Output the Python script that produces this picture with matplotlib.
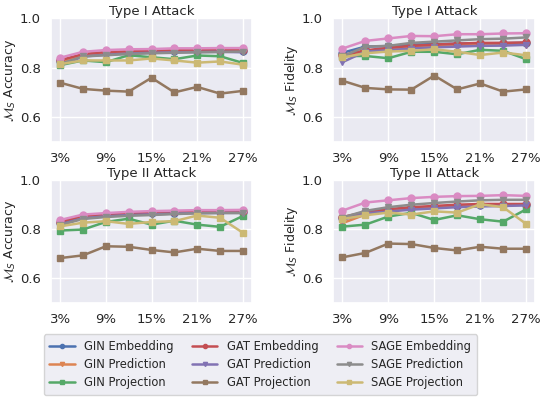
import matplotlib
matplotlib.use("Agg")
import matplotlib.pyplot as plt
import seaborn as sns

# ── Data ──────────────────────────────────────────────────────────────────────
ratios = [3, 6, 9, 12, 15, 18, 21, 24, 27]
tick_ratios = [3, 9, 15, 21, 27]
tick_labels = ["3%", "9%", "15%", "21%", "27%"]

series_names = [
    "GIN Embedding", "GIN Prediction", "GIN Projection",
    "GAT Embedding", "GAT Prediction", "GAT Projection",
    "SAGE Embedding", "SAGE Prediction", "SAGE Projection",
]

# Type I attack, accuracy
t1_acc = {
    "GIN Embedding":   [0.825, 0.852, 0.860, 0.863, 0.866, 0.867, 0.868, 0.868, 0.869],
    "GIN Prediction":  [0.820, 0.850, 0.858, 0.862, 0.865, 0.866, 0.867, 0.868, 0.868],
    "GIN Projection":  [0.810, 0.829, 0.822, 0.850, 0.842, 0.834, 0.849, 0.846, 0.819],
    "GAT Embedding":   [0.830, 0.855, 0.863, 0.866, 0.868, 0.870, 0.871, 0.872, 0.873],
    "GAT Prediction":  [0.810, 0.845, 0.852, 0.857, 0.860, 0.862, 0.863, 0.864, 0.862],
    "GAT Projection":  [0.739, 0.714, 0.707, 0.703, 0.759, 0.700, 0.722, 0.695, 0.706],
    "SAGE Embedding":  [0.840, 0.864, 0.871, 0.874, 0.875, 0.878, 0.878, 0.879, 0.879],
    "SAGE Prediction": [0.815, 0.845, 0.850, 0.855, 0.858, 0.860, 0.862, 0.863, 0.865],
    "SAGE Projection": [0.814, 0.829, 0.829, 0.829, 0.837, 0.829, 0.820, 0.825, 0.812],
}

# Type I attack, fidelity
t1_fid = {
    "GIN Embedding":   [0.860, 0.885, 0.887, 0.893, 0.895, 0.897, 0.898, 0.899, 0.900],
    "GIN Prediction":  [0.845, 0.868, 0.876, 0.883, 0.886, 0.889, 0.891, 0.892, 0.893],
    "GIN Projection":  [0.847, 0.847, 0.838, 0.864, 0.864, 0.854, 0.872, 0.868, 0.834],
    "GAT Embedding":   [0.850, 0.870, 0.880, 0.888, 0.893, 0.897, 0.900, 0.900, 0.902],
    "GAT Prediction":  [0.822, 0.865, 0.870, 0.877, 0.882, 0.885, 0.888, 0.889, 0.892],
    "GAT Projection":  [0.747, 0.718, 0.712, 0.711, 0.768, 0.712, 0.736, 0.703, 0.712],
    "SAGE Embedding":  [0.877, 0.908, 0.918, 0.928, 0.927, 0.935, 0.935, 0.938, 0.939],
    "SAGE Prediction": [0.845, 0.885, 0.888, 0.900, 0.905, 0.910, 0.915, 0.917, 0.922],
    "SAGE Projection": [0.841, 0.858, 0.865, 0.868, 0.874, 0.864, 0.851, 0.861, 0.850],
}

# Type II attack, accuracy
t2_acc = {
    "GIN Embedding":   [0.825, 0.852, 0.858, 0.862, 0.865, 0.867, 0.869, 0.869, 0.870],
    "GIN Prediction":  [0.815, 0.848, 0.856, 0.861, 0.864, 0.866, 0.868, 0.868, 0.869],
    "GIN Projection":  [0.795, 0.799, 0.830, 0.843, 0.819, 0.835, 0.819, 0.810, 0.854],
    "GAT Embedding":   [0.830, 0.855, 0.862, 0.866, 0.869, 0.871, 0.873, 0.874, 0.875],
    "GAT Prediction":  [0.820, 0.845, 0.853, 0.858, 0.861, 0.864, 0.866, 0.867, 0.867],
    "GAT Projection":  [0.683, 0.694, 0.731, 0.729, 0.716, 0.706, 0.721, 0.712, 0.712],
    "SAGE Embedding":  [0.838, 0.860, 0.866, 0.871, 0.874, 0.876, 0.878, 0.878, 0.879],
    "SAGE Prediction": [0.818, 0.842, 0.850, 0.855, 0.858, 0.862, 0.865, 0.866, 0.866],
    "SAGE Projection": [0.812, 0.827, 0.833, 0.822, 0.830, 0.833, 0.856, 0.847, 0.786],
}

# Type II attack, fidelity
t2_fid = {
    "GIN Embedding":   [0.845, 0.868, 0.878, 0.886, 0.892, 0.896, 0.899, 0.900, 0.900],
    "GIN Prediction":  [0.825, 0.860, 0.875, 0.885, 0.890, 0.895, 0.898, 0.900, 0.900],
    "GIN Projection":  [0.811, 0.819, 0.852, 0.867, 0.838, 0.857, 0.841, 0.831, 0.881],
    "GAT Embedding":   [0.850, 0.870, 0.882, 0.890, 0.895, 0.900, 0.903, 0.903, 0.903],
    "GAT Prediction":  [0.838, 0.865, 0.872, 0.880, 0.885, 0.890, 0.893, 0.895, 0.897],
    "GAT Projection":  [0.686, 0.704, 0.742, 0.740, 0.724, 0.714, 0.729, 0.721, 0.721],
    "SAGE Embedding":  [0.876, 0.909, 0.918, 0.927, 0.932, 0.935, 0.936, 0.939, 0.936],
    "SAGE Prediction": [0.848, 0.875, 0.890, 0.900, 0.907, 0.913, 0.918, 0.920, 0.920],
    "SAGE Projection": [0.842, 0.857, 0.868, 0.860, 0.873, 0.868, 0.902, 0.890, 0.822],
}

panels = [
    ("Type I Attack",  r"$\mathcal{M}_S$ Accuracy", t1_acc),
    ("Type I Attack",  r"$\mathcal{M}_S$ Fidelity", t1_fid),
    ("Type II Attack", r"$\mathcal{M}_S$ Accuracy", t2_acc),
    ("Type II Attack", r"$\mathcal{M}_S$ Fidelity", t2_fid),
]

# ── Plot ──────────────────────────────────────────────────────────────────────
sns.set_theme(style="darkgrid", palette="deep")
colors = sns.color_palette("deep", 9)
markers = {"Embedding": "o", "Prediction": "v", "Projection": "s"}

fig = plt.figure(figsize=(5.49, 4.03), dpi=100)
rects = [
    [0.093, 0.648, 0.366, 0.307],
    [0.607, 0.648, 0.368, 0.307],
    [0.093, 0.248, 0.366, 0.305],
    [0.607, 0.248, 0.368, 0.305],
]

for rect, (title, ylabel, data) in zip(rects, panels):
    ax = fig.add_axes(rect)
    for i, name in enumerate(series_names):
        ax.plot(ratios, data[name], color=colors[i], marker=markers[name.split()[1]],
                markersize=5, linewidth=1.8, label=name)
    ax.set_ylim(0.5, 1.0)
    ax.set_yticks([0.6, 0.8, 1.0])
    ax.set_xticks(tick_ratios)
    ax.set_xticklabels(tick_labels)
    ax.tick_params(labelsize=9.5, pad=1.5)
    ax.set_title(title, fontsize=9.5, pad=2)
    ax.set_ylabel(ylabel, fontsize=9, labelpad=1.5)

handles, labels = ax.get_legend_handles_labels()
fig.legend(handles, labels, loc="lower center", bbox_to_anchor=(0.474, 0.005),
           ncol=3, fontsize=8.3, markerscale=0.6, handlelength=2.2,
           columnspacing=1.6, labelspacing=0.45, borderpad=0.5)

fig.savefig("out.png", dpi=100)
